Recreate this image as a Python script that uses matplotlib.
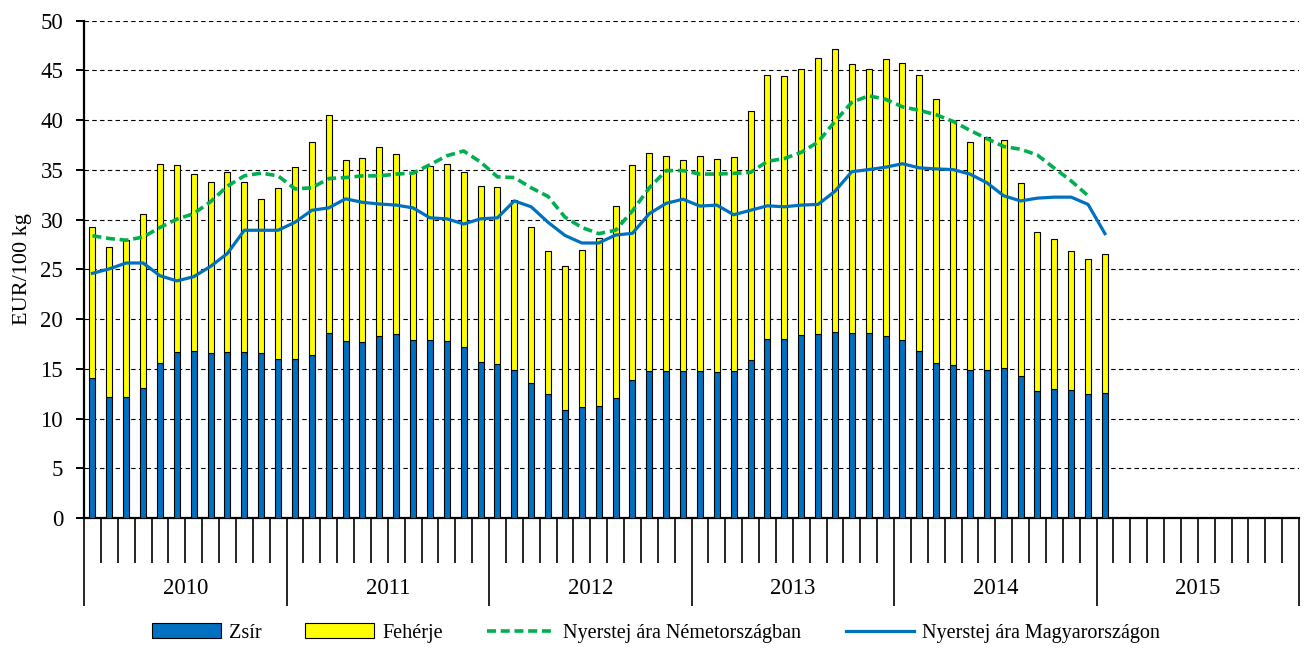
import numpy as np
import matplotlib
matplotlib.use('Agg')
import matplotlib.pyplot as plt

plt.rcParams['font.family'] = ['Liberation Serif', 'DejaVu Serif']

# adatok: 2010 jan - 2015 jan (havi)
years = ['2010', '2011', '2012', '2013', '2014', '2015']

zsir = [14.07, 12.16, 12.16, 13.06, 15.56, 16.67, 16.77, 16.56, 16.67, 16.67, 16.56, 15.97,
        15.97, 16.39, 18.61, 17.78, 17.67, 18.26, 18.47, 17.88, 17.88, 17.78, 17.15, 15.70,
        15.49, 14.90, 13.62, 12.47, 10.85, 11.19, 11.30, 12.06, 13.86, 14.76, 14.76, 14.76,
        14.76, 14.66, 14.76, 15.90, 17.98, 17.98, 18.36, 18.47, 18.75, 18.64, 18.57, 18.26,
        17.91, 16.80, 15.59, 15.35, 14.90, 14.90, 15.07, 14.24, 12.75, 12.92, 12.82, 12.47,
        12.58]

feherje = [15.21, 15.11, 15.77, 17.54, 19.99, 18.78, 17.81, 17.22, 18.12, 17.11, 15.49, 17.23,
           19.30, 21.45, 21.89, 18.22, 18.54, 19.02, 18.09, 16.77, 17.50, 17.77, 17.60, 17.67,
           17.81, 17.08, 15.66, 14.38, 14.44, 15.77, 16.87, 19.33, 21.59, 21.90, 21.62, 21.24,
           21.62, 21.41, 21.52, 24.99, 26.61, 26.51, 26.75, 27.82, 28.37, 26.96, 26.61, 27.93,
           27.86, 27.79, 26.51, 24.60, 22.94, 23.39, 22.98, 19.44, 16.01, 15.18, 14.03, 13.62,
           13.96]

nemet = [28.38, 28.10, 27.93, 28.24, 29.21, 30.04, 30.60, 31.80, 33.37, 34.40, 34.68, 34.40,
         33.09, 33.20, 34.13, 34.23, 34.40, 34.40, 34.58, 34.68, 35.52, 36.42, 36.90, 35.79,
         34.30, 34.23, 33.20, 32.33, 30.25, 29.21, 28.59, 28.93, 30.87, 33.20, 34.93, 34.93,
         34.58, 34.58, 34.65, 34.75, 35.86, 36.14, 36.76, 37.80, 39.88, 41.79, 42.45, 42.10,
         41.34, 40.99, 40.54, 39.88, 38.98, 38.15, 37.35, 37.08, 36.49, 35.17, 33.89, 32.40]

magyar = [24.60, 25.05, 25.64, 25.64, 24.36, 23.84, 24.26, 25.30, 26.60, 28.93, 28.93, 28.93,
          29.73, 30.94, 31.18, 32.09, 31.74, 31.57, 31.46, 31.18, 30.18, 30.08, 29.56, 30.08,
          30.18, 31.88, 31.29, 29.73, 28.41, 27.65, 27.65, 28.45, 28.62, 30.60, 31.64, 32.05,
          31.36, 31.46, 30.49, 30.94, 31.39, 31.29, 31.46, 31.53, 32.85, 34.82, 35.03, 35.27,
          35.62, 35.20, 35.10, 35.03, 34.58, 33.71, 32.40, 31.88, 32.16, 32.26, 32.26, 31.53,
          28.59]

kek = '#0070C0'
sarga = '#FFFF00'
zold = '#00B050'

fig = plt.figure(figsize=(13.07, 6.48), dpi=100)
ax = fig.add_axes([84 / 1307, 130 / 648, 1215 / 1307, 497.3 / 648])

x = np.arange(len(zsir))
b1 = ax.bar(x, zsir, width=0.35, color=kek, edgecolor='black', linewidth=0.8, zorder=3, label='Zsír')
b2 = ax.bar(x, feherje, width=0.35, bottom=zsir, color=sarga, edgecolor='black', linewidth=0.8,
            zorder=3, label='Fehérje')
l1, = ax.plot(np.arange(len(nemet)), nemet, color=zold, lw=2.6, dashes=(2.5, 1.3), zorder=4,
              label='Nyerstej ára Németországban')
l2, = ax.plot(np.arange(len(magyar)), magyar, color=kek, lw=2.3, zorder=5,
              label='Nyerstej ára Magyarországon')

ax.set_ylim(0, 50)
ax.set_yticks(np.arange(0, 51, 5))
ax.set_xlim(-0.5, 71.5)
ax.yaxis.grid(True, color='black', linestyle=(0, (4, 3)), linewidth=0.8, zorder=0)
ax.set_axisbelow(True)

for s in ['top', 'right']:
    ax.spines[s].set_visible(False)
ax.spines['left'].set_linewidth(1.6)
ax.spines['bottom'].set_linewidth(1.6)

# x tengely: havi osztások, évhatárok hosszabb vonallal
ax.set_xticks(np.arange(0, 73, 12) - 0.5)
ax.set_xticklabels([])
ax.set_xticks(np.arange(0, 73) - 0.5, minor=True)
ax.tick_params(axis='x', which='major', length=63, width=1.2, direction='out')
ax.tick_params(axis='x', which='minor', length=32.5, width=1.2, direction='out')
ax.tick_params(axis='y', length=6, width=1.4, pad=9, labelsize=16.5)

for i, yr in enumerate(years):
    ax.text(i * 12 + 5.5, -70 / 497.3, yr, transform=ax.get_xaxis_transform(),
            ha='center', va='center', fontsize=16.5)

ax.set_ylabel('EUR/100 kg', fontsize=16, labelpad=6)

fig.legend(handles=[b1, b2, l1, l2], loc='center', bbox_to_anchor=(0.502, 15 / 648), ncol=4,
           frameon=False, fontsize=14.5, handlelength=3.4, handletextpad=0.4, columnspacing=2.2)

plt.savefig('out.png', dpi=100)
